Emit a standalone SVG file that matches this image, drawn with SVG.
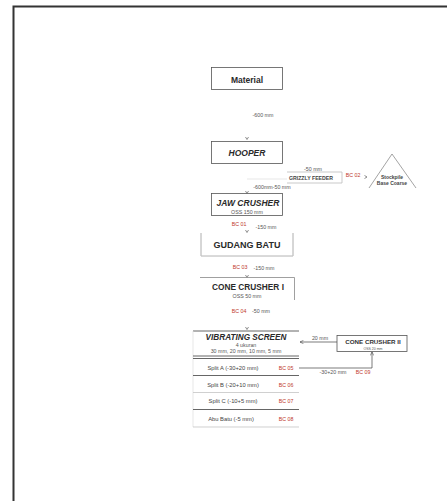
<svg xmlns="http://www.w3.org/2000/svg" width="447" height="501" viewBox="0 0 447 501">
<style>
text{font-family:"Liberation Sans",Arial,sans-serif;text-anchor:middle}
.t{font-weight:bold;fill:#2a2a2a}
.i{font-style:italic}
.s{font-size:5.3px;fill:#555}
.r{font-size:5.3px;fill:#c0392b}
.m{font-size:5.8px;fill:#444}
.box{fill:#fff;stroke:#555;stroke-width:0.8}
.ln{fill:none;stroke:#444;stroke-width:0.7}
.chev{fill:none;stroke:#444;stroke-width:0.6}
.sep{stroke:#555;stroke-width:0.9}
.sepl{stroke:#bbb;stroke-width:0.7}
</style>
<defs>
<marker id="ah" viewBox="0 0 6 6" refX="5" refY="3" markerWidth="6" markerHeight="6" orient="auto"><path d="M0,0.5 L5,3 L0,5.5" fill="none" stroke="#444" stroke-width="0.8"/></marker>
</defs>
<rect width="447" height="501" fill="#fff"/>
<path d="M13.5,501 V6.5 H447" fill="none" stroke="#333" stroke-width="2"/>
<g id="connectors">
<path class="chev" d="M245.5,137 L247,139.5 L248.5,137"/>
<path class="chev" d="M245.5,191 L247,193.5 L248.5,191"/>
<path class="chev" d="M245.5,230 L247,232.5 L248.5,230"/>
<path class="chev" d="M245.5,275 L247,277.5 L248.5,275"/>
<path class="chev" d="M245.5,327 L247,329.5 L248.5,327"/>
<path class="chev" d="M364.5,175.5 L367,177 L364.5,178.5"/>
<line x1="247" y1="179" x2="287" y2="179" stroke="#ddd" stroke-width="0.7"/>
<path class="ln" d="M337,342 H300" marker-end="url(#ah)"/>
<path class="ln" d="M299,368 H372 V352" marker-end="url(#ah)"/>
<text class="s" x="263" y="117">-600 mm</text>
<text class="s" x="313" y="171">-50 mm</text>
<text class="r" x="353" y="177">BC 02</text>
<text class="s" x="272" y="189">-600mm-50 mm</text>
<text class="r" x="239" y="226">BC 01</text>
<text class="s" x="266" y="229">-150 mm</text>
<text class="r" x="240" y="269">BC 03</text>
<text class="s" x="264" y="270">-150 mm</text>
<text class="r" x="239" y="313">BC 04</text>
<text class="s" x="261" y="313">-50 mm</text>
<text class="s" x="320" y="340">20 mm</text>
<text class="s" x="333" y="374">-30+20 mm</text>
<text class="r" x="363" y="374">BC 09</text>
</g>
<g id="material">
<rect class="box" x="211.5" y="67.5" width="71" height="22"/>
<text class="t" x="247" y="83" font-size="8.5">Material</text>
</g>
<g id="hooper">
<rect class="box" x="211.5" y="141.5" width="71" height="22"/>
<text class="t i" x="247" y="156" font-size="8.5">HOOPER</text>
</g>
<g id="grizzly">
<path d="M287,172 H342 V183 H287" fill="none" stroke="#bbb" stroke-width="0.8"/>
<text x="311" y="179.5" style="font-size:5.2px;font-weight:bold;fill:#444">GRIZZLY FEEDER</text>
</g>
<g id="stockpile">
<path d="M392,154 L416,188 M369,188 L392,154" fill="none" stroke="#666" stroke-width="0.6"/>
<text x="392" y="178.5" style="font-size:5px;font-weight:bold;fill:#444">Stockpile</text>
<text x="392" y="185" style="font-size:5px;font-weight:bold;fill:#444">Base Coarse</text>
</g>
<g id="jaw">
<rect class="box" x="211.5" y="193.5" width="71" height="22"/>
<text class="t i" x="248" y="206" font-size="8.5">JAW CRUSHER</text>
<text class="s" x="247" y="213.5">OSS 150 mm</text>
</g>
<g id="gudang">
<path d="M201,233 V256 H293 V233" fill="none" stroke="#999" stroke-width="0.8"/>
<line x1="201" y1="256" x2="293" y2="256" stroke="#ddd" stroke-width="0.8"/>
<text class="t" x="247" y="248" font-size="9">GUDANG BATU</text>
</g>
<g id="cone1">
<path d="M200,277.5 H294.5 V300" fill="none" stroke="#888" stroke-width="0.8"/>
<text class="t" x="248" y="290" font-size="8.3">CONE CRUSHER I</text>
<text class="s" x="247" y="297.5">OSS 50 mm</text>
</g>
<g id="vscreen">
<line class="sep" x1="193" y1="331" x2="299" y2="331"/>
<line x1="193" y1="331" x2="193" y2="427" stroke="#ddd" stroke-width="0.7"/>
<text class="t i" x="246" y="340" font-size="8.2">VIBRATING SCREEN</text>
<text class="s" x="246" y="347">4 ukuran</text>
<text class="s" x="246" y="352.5">30 mm, 20 mm, 10 mm, 5 mm</text>
<line class="sep" x1="193" y1="356" x2="299" y2="356"/>
</g>
<g id="splitA">
<line class="sep" x1="193" y1="358.5" x2="299" y2="358.5"/>
<text class="m" x="233" y="370">Split A (-30+20 mm)</text>
<text class="r" x="286" y="370">BC 05</text>
</g>
<g id="splitB">
<line class="sep" x1="193" y1="375.5" x2="299" y2="375.5"/>
<text class="m" x="233" y="386.5">Split B (-20+10 mm)</text>
<text class="r" x="286" y="386.5">BC 06</text>
</g>
<g id="splitC">
<line class="sepl" x1="193" y1="392.5" x2="299" y2="392.5"/>
<text class="m" x="233" y="403">Split C (-10+5 mm)</text>
<text class="r" x="286" y="403">BC 07</text>
</g>
<g id="abubatu">
<line class="sep" x1="193" y1="409.5" x2="299" y2="409.5"/>
<text class="m" x="231" y="420.5">Abu Batu (-5 mm)</text>
<text class="r" x="286" y="420.5">BC 08</text>
<line class="sepl" x1="193" y1="427" x2="299" y2="427"/>
</g>
<g id="cone2">
<rect class="box" x="337" y="335.5" width="70" height="16"/>
<text x="373" y="344" style="font-size:6.2px;font-weight:bold;fill:#333">CONE CRUSHER II</text>
<text x="373" y="349.5" style="font-size:3.5px;fill:#555">OSS 20 mm</text>
</g>
</svg>
